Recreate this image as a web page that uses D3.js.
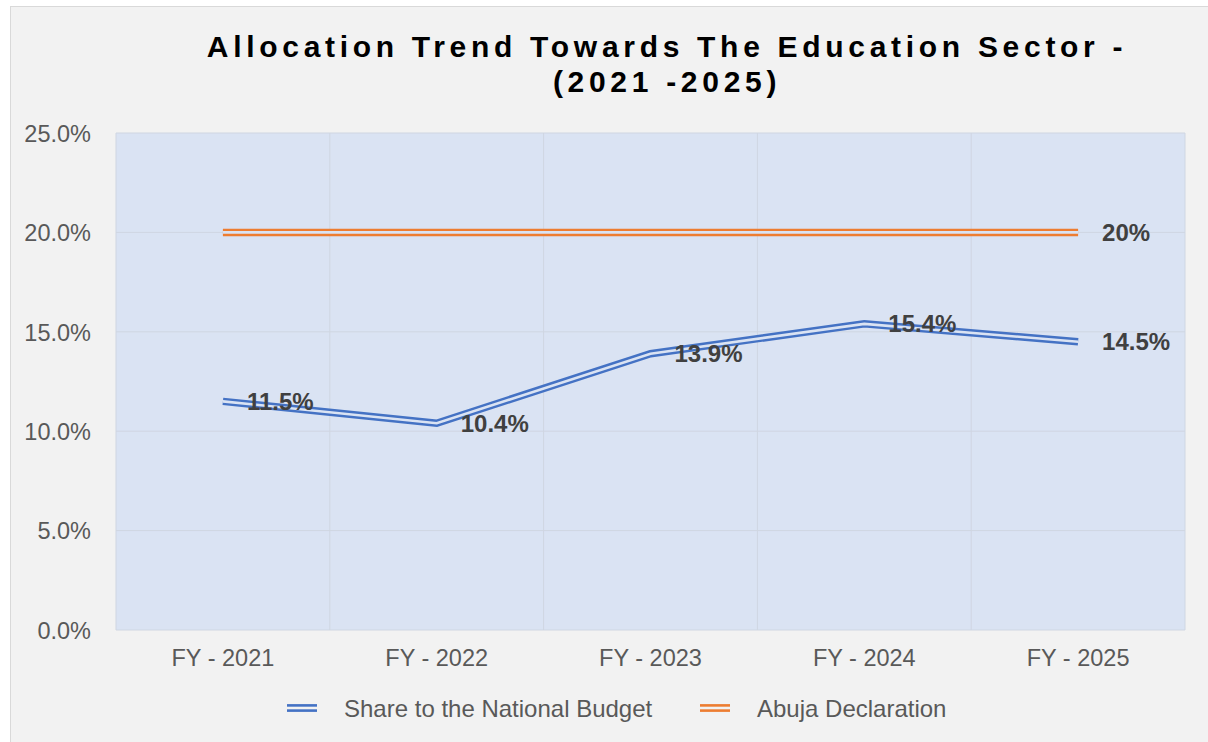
<!DOCTYPE html>
<html>
<head>
<meta charset="utf-8">
<script src="https://cdn.jsdelivr.net/npm/d3@7"></script>
<style>
  body { margin: 0; background: #ffffff; }
  svg { display: block; font-family: "Liberation Sans", Arial, sans-serif; }
</style>
</head>
<body>
<svg id="main-svg" width="1208" height="742"></svg>
<script>
var years = ['FY - 2021', 'FY - 2022', 'FY - 2023', 'FY - 2024', 'FY - 2025'];
var shareValues = [11.5, 10.4, 13.9, 15.4, 14.5];
var abujaValues = [20, 20, 20, 20, 20];
var yTicks = [0, 5, 10, 15, 20, 25];
var titleLines = ['Allocation Trend Towards The Education Sector -', '(2021 -2025)'];
var seriesNames = ['Share to the National Budget', 'Abuja Declaration'];

var svg = d3.select('#main-svg');
var plot = {left: 116, right: 1185, top: 133, bottom: 630};
var blue = '#4472c4', orange = '#ed7d31', fill = '#dae3f3';

// outer chart box
svg.append('rect').attr('x', 10.5).attr('y', 6.5).attr('width', 1210).attr('height', 750)
    .attr('fill', '#f2f2f2').attr('stroke', '#d9d9d9');

// title
svg.selectAll('text.title').data(titleLines).enter().append('text')
    .attr('class', 'title')
    .attr('x', 667).attr('y', function(d, i) { return 57 + i*35; })
    .attr('text-anchor', 'middle')
    .attr('font-size', 30).attr('font-weight', 'bold')
    .attr('letter-spacing', 4.7)
    .attr('fill', '#000')
    .text(function(d) { return d; });

var x = d3.scaleBand().domain(years).range([plot.left, plot.right]);
var y = d3.scaleLinear().domain([0, 25]).range([plot.bottom, plot.top]);

svg.append('rect').attr('x', plot.left).attr('y', plot.top)
    .attr('width', plot.right - plot.left).attr('height', plot.bottom - plot.top)
    .attr('fill', fill);

// gridlines
svg.selectAll('line.hgrid').data(yTicks).enter().append('line')
    .attr('x1', plot.left).attr('x2', plot.right)
    .attr('y1', function(d) { return y(d); }).attr('y2', function(d) { return y(d); })
    .attr('stroke', '#cfd6e2').attr('stroke-width', 1);
var bounds = years.map(function(d) { return x(d); }).concat([plot.right]);
svg.selectAll('line.vgrid').data(bounds).enter().append('line')
    .attr('x1', function(d) { return d; }).attr('x2', function(d) { return d; })
    .attr('y1', plot.top).attr('y2', plot.bottom)
    .attr('stroke', '#cfd6e2').attr('stroke-width', 1);

// axes
var yAxis = svg.append('g').attr('transform', 'translate(' + (plot.left - 22) + ',0)')
    .call(d3.axisLeft(y).tickValues(yTicks).tickSize(0).tickFormat(function(d) { return d.toFixed(1) + '%'; }));
yAxis.select('.domain').remove();
yAxis.selectAll('text').attr('font-size', 23.5).attr('fill', '#595959')
    .attr('font-family', '"Liberation Sans", Arial, sans-serif').attr('dy', '0.35em');

var xAxis = svg.append('g').attr('transform', 'translate(0,' + (plot.bottom + 16) + ')')
    .call(d3.axisBottom(x).tickSize(0));
xAxis.select('.domain').remove();
xAxis.selectAll('text').attr('font-size', 23.5).attr('fill', '#595959')
    .attr('font-family', '"Liberation Sans", Arial, sans-serif').attr('dy', '0.71em');

// double lines: thick colour stroke with a thin fill-coloured stroke on top
function doubleLine(values, colour) {
    var pts = values.map(function(v, i) { return [x(years[i]) + x.bandwidth()/2, y(v)]; });
    var line = d3.line();
    svg.append('path').attr('d', line(pts)).attr('fill', 'none')
        .attr('stroke', colour).attr('stroke-width', 7.5).attr('stroke-linejoin', 'miter');
    svg.append('path').attr('d', line(pts)).attr('fill', 'none')
        .attr('stroke', fill).attr('stroke-width', 2.6).attr('stroke-linejoin', 'miter');
}
doubleLine(abujaValues, orange);
doubleLine(shareValues, blue);

// labels
function label(text, i, v) {
    svg.append('text')
        .attr('x', x(years[i]) + x.bandwidth()/2 + 24).attr('y', y(v))
        .attr('dy', '0.36em')
        .attr('font-size', 24).attr('font-weight', 'bold').attr('fill', '#404040')
        .text(text);
}
shareValues.forEach(function(v, i) { label(v.toFixed(1) + '%', i, v); });
label('20%', 4, abujaValues[4]);

// legend
var legend = [{name: seriesNames[0], colour: blue, x: 287}, {name: seriesNames[1], colour: orange, x: 700}];
legend.forEach(function(d) {
    [-2.6, 2.6].forEach(function(off) {
        svg.append('line').attr('x1', d.x).attr('x2', d.x + 30)
            .attr('y1', 708 + off).attr('y2', 708 + off)
            .attr('stroke', d.colour).attr('stroke-width', 2.6);
    });
    svg.append('text').attr('x', d.x + 57).attr('y', 708).attr('dy', '0.36em')
        .attr('font-size', 24).attr('fill', '#595959').text(d.name);
});
</script>
</body>
</html>
